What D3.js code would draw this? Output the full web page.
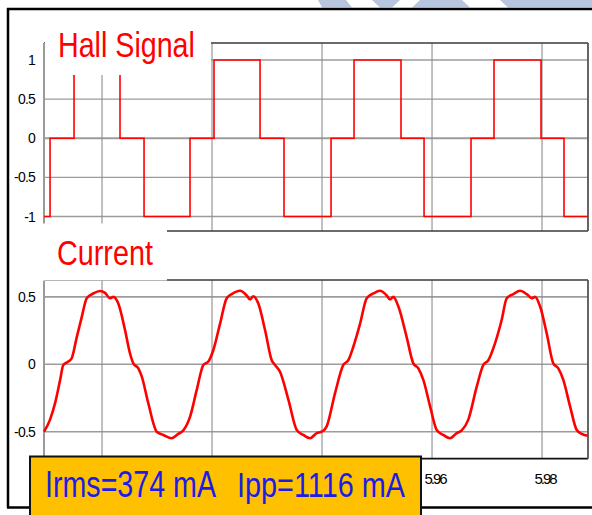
<!DOCTYPE html>
<html>
<head>
<meta charset="utf-8">
<script src="https://cdn.jsdelivr.net/npm/d3@7"></script>
<style>
  html, body { margin: 0; padding: 0; background: #fff; }
  svg { display: block; }
  text { font-family: "Liberation Sans", Arial, sans-serif; }
</style>
</head>
<body>
<svg id="chart" width="592" height="515"></svg>
<script>
// ---- data ----
const xTicks = [5.90, 5.92, 5.94, 5.96, 5.98];
const xTickLabels = [5.96, 5.98];
const hallTicks = [1, 0.5, 0, -0.5, -1];
const currentTicks = [0.5, 0, -0.5];

// Hall sensor output: level held from each time until the next
const hallTime = [5.88945, 5.89055, 5.89491, 5.90327, 5.90764, 5.916, 5.92036, 5.92873,
  5.93309, 5.94164, 5.94582, 5.95436, 5.95855, 5.96709, 5.97127, 5.97982, 5.984, 5.98836];
const hallLevel = [-1, 0, 1, 0, -1, 0, 1, 0, -1, 0, 1, 0, -1, 0, 1, 0, -1, -1];

// Phase current (A)
const currentTime = [5.88945, 5.89055, 5.89145, 5.89236, 5.89296, 5.89387, 5.89449, 5.8954,
  5.89631, 5.89722, 5.89842, 5.89964, 5.90055, 5.90145, 5.90205, 5.90296, 5.90418, 5.90509,
  5.90569, 5.9066, 5.90722, 5.90842, 5.90995, 5.91115, 5.91267, 5.91387, 5.91478, 5.916,
  5.91722, 5.91842, 5.91933, 5.92024, 5.92145, 5.92267, 5.92358, 5.92509, 5.92631, 5.92691,
  5.92751, 5.92842, 5.92964, 5.93085, 5.93145, 5.93236, 5.93387, 5.9354, 5.9366, 5.93782,
  5.93904, 5.93995, 5.94085, 5.94236, 5.94387, 5.94478, 5.94569, 5.94691, 5.94813, 5.94933,
  5.95055, 5.95176, 5.95236, 5.95296, 5.95387, 5.9554, 5.9566, 5.95751, 5.95842, 5.95964,
  5.96085, 5.96205, 5.96327, 5.96449, 5.9654, 5.9666, 5.96813, 5.96933, 5.97024, 5.97145,
  5.97267, 5.97358, 5.97478, 5.976, 5.97722, 5.97813, 5.97873, 5.97964, 5.98085, 5.98205,
  5.98296, 5.98387, 5.98509, 5.98631, 5.98722, 5.98836];
const currentValue = [-0.50, -0.41, -0.29, -0.12, -0.005, 0.02, 0.045, 0.20,
  0.35, 0.49, 0.525, 0.543, 0.53, 0.49, 0.50, 0.45, 0.254, 0.08,
  0.007, -0.03, -0.09, -0.29, -0.50, -0.524, -0.548, -0.516, -0.49, -0.39,
  -0.19, -0.005, 0.02, 0.106, 0.30, 0.49, 0.52, 0.545, 0.51, 0.48,
  0.505, 0.45, 0.254, 0.03, -0.005, -0.055, -0.26, -0.487, -0.524, -0.548,
  -0.51, -0.50, -0.46, -0.215, -0.005, 0.03, 0.13, 0.30, 0.49, 0.525,
  0.545, 0.51, 0.48, 0.50, 0.43, 0.20, 0.007, -0.03, -0.116, -0.31,
  -0.487, -0.524, -0.548, -0.51, -0.49, -0.41, -0.166, -0.005, 0.03, 0.155,
  0.33, 0.49, 0.52, 0.545, 0.52, 0.49, 0.50, 0.43, 0.23, 0.007,
  -0.03, -0.116, -0.31, -0.487, -0.516, -0.53];

const titleHall = "Hall Signal";
const titleCurrent = "Current";
const readoutRms = "Irms=374 mA";
const readoutPp = "Ipp=1116 mA";

// ---- layout ----
const svg = d3.select("#chart");
const L = 44, R = 588;
const hallTop = 43, hallBottom = 231;
const curTop = 280, curBottom = 458.7;

const x = d3.scaleLinear().domain([5.88945, 5.98836]).range([L, R]);
const yHall = d3.scaleLinear().domain([-1.185, 1.217]).range([hallBottom, hallTop]);
const yCur = d3.scaleLinear().domain([-0.7, 0.625]).range([curBottom, curTop]);

const RED = "#ff0000";
const GRID_H = "#9c9c9c", GRID_V = "#8e8e8e", AXIS = "#9a9a9a", FRAME = "#3a3a3a";

// faint banner shapes along the top edge
const banner = svg.append("g").attr("fill", "#b8c5df");
banner.append("polygon").attr("points", "318,0 346,0 352,7.5 322,7.5");
banner.append("polygon").attr("points", "372,0 400,0 392,7.5 380,7.5");
banner.append("polygon").attr("points", "420,0 462,0 470,7.5 412,7.5");
banner.append("polygon").attr("points", "500,0 592,0 592,7.5 508,7.5");

// condensed text: natural glyphs squeezed horizontally to a target width
function condensedText(parent, str, x0, y0, size, width, color) {
  const g = parent.append("g");
  const t = g.append("text").attr("x", 0).attr("y", 0)
    .attr("font-size", size).attr("fill", color).text(str);
  const natural = t.node().getComputedTextLength();
  g.attr("transform", `translate(${x0},${y0}) scale(${width / natural},1)`);
  return g;
}

function tickLabelY(g, scale, ticks, xr) {
  g.selectAll(null).data(ticks).join("text")
    .attr("x", xr).attr("y", d => scale(d)).attr("dy", "0.36em")
    .attr("text-anchor", "end").attr("font-size", 14).attr("letter-spacing", "-0.8")
    .attr("fill", "#000").text(d => String(d));
}

// ---- Hall panel ----
const gh = svg.append("g");
gh.selectAll(null).data(hallTicks).join("line")
  .attr("x1", L).attr("x2", R).attr("y1", d => yHall(d)).attr("y2", d => yHall(d))
  .attr("stroke", GRID_H).attr("stroke-width", d => (d === 0 ? 2 : 1.4));
gh.selectAll(null).data(xTicks).join("line")
  .attr("x1", d => x(d)).attr("x2", d => x(d)).attr("y1", hallTop).attr("y2", hallBottom)
  .attr("stroke", GRID_V).attr("stroke-width", 1.1);
gh.append("line").attr("x1", L).attr("x2", R).attr("y1", hallTop).attr("y2", hallTop)
  .attr("stroke", FRAME).attr("stroke-width", 1.6);
gh.append("line").attr("x1", L).attr("x2", R).attr("y1", hallBottom).attr("y2", hallBottom)
  .attr("stroke", FRAME).attr("stroke-width", 1.6);
gh.append("line").attr("x1", R).attr("x2", R).attr("y1", hallTop).attr("y2", hallBottom)
  .attr("stroke", "#555").attr("stroke-width", 1.8);
gh.append("line").attr("x1", L).attr("x2", L).attr("y1", hallTop).attr("y2", hallBottom)
  .attr("stroke", AXIS).attr("stroke-width", 2);

const hallLine = d3.line().x(d => x(d[0])).y(d => yHall(d[1])).curve(d3.curveStepAfter);
gh.append("path").datum(hallTime.map((t, i) => [t, hallLevel[i]]))
  .attr("d", hallLine).attr("fill", "none").attr("stroke", RED).attr("stroke-width", 1.6);
tickLabelY(gh, yHall, hallTicks, 35);

// ---- Current panel ----
const gc = svg.append("g");
gc.selectAll(null).data(currentTicks).join("line")
  .attr("x1", L).attr("x2", R).attr("y1", d => yCur(d)).attr("y2", d => yCur(d))
  .attr("stroke", GRID_H).attr("stroke-width", 1.6);
gc.selectAll(null).data(xTicks).join("line")
  .attr("x1", d => x(d)).attr("x2", d => x(d)).attr("y1", curTop).attr("y2", curBottom)
  .attr("stroke", GRID_V).attr("stroke-width", 1.1);
gc.append("line").attr("x1", L).attr("x2", R).attr("y1", curTop).attr("y2", curTop)
  .attr("stroke", FRAME).attr("stroke-width", 1.6);
gc.append("line").attr("x1", L).attr("x2", R).attr("y1", curBottom).attr("y2", curBottom)
  .attr("stroke", "#111").attr("stroke-width", 1.8);
gc.append("line").attr("x1", R).attr("x2", R).attr("y1", curTop).attr("y2", curBottom)
  .attr("stroke", "#555").attr("stroke-width", 1.8);
gc.append("line").attr("x1", L).attr("x2", L).attr("y1", curTop).attr("y2", 470)
  .attr("stroke", AXIS).attr("stroke-width", 2);

const curLine = d3.line().x(d => x(d[0])).y(d => yCur(d[1])).curve(d3.curveMonotoneX);
gc.append("path").datum(currentTime.map((t, i) => [t, currentValue[i]]))
  .attr("d", curLine).attr("fill", "none").attr("stroke", RED)
  .attr("stroke-width", 2.6).attr("stroke-linejoin", "round");
tickLabelY(gc, yCur, currentTicks, 35);

gc.selectAll(null).data(xTickLabels).join("text")
  .attr("x", d => x(d) + 3).attr("y", 479).attr("dy", "0.36em")
  .attr("text-anchor", "middle").attr("font-size", 15).attr("letter-spacing", "-2")
  .attr("fill", "#000").text(d => d3.format(".2f")(d));

// ---- panel titles on white plates ----
svg.append("rect").attr("x", 45).attr("y", 11).attr("width", 166).attr("height", 64).attr("fill", "#fff");
svg.append("rect").attr("x", 9).attr("y", 223.5).attr("width", 158).attr("height", 57).attr("fill", "#fff");
condensedText(svg, titleHall, 58, 57, 36, 137, RED);
condensedText(svg, titleCurrent, 57, 265, 36, 96, RED);

// ---- outer frame ----
const frame = svg.append("g").attr("stroke", "#000").attr("stroke-width", 2.5);
frame.append("line").attr("x1", 7).attr("x2", 592).attr("y1", 9).attr("y2", 9);
frame.append("line").attr("x1", 8).attr("x2", 8).attr("y1", 8).attr("y2", 508);
frame.append("line").attr("x1", 7).attr("x2", 592).attr("y1", 507.5).attr("y2", 507.5);

// ---- readout box ----
svg.append("rect").attr("x", 30).attr("y", 456.5).attr("width", 391).attr("height", 70)
  .attr("fill", "#ffc000").attr("stroke", "#111").attr("stroke-width", 2);
condensedText(svg, readoutRms, 45, 496.5, 36, 171, "#1c1ce8");
condensedText(svg, readoutPp, 237, 496.5, 36, 168, "#1c1ce8");
</script>
</body>
</html>
